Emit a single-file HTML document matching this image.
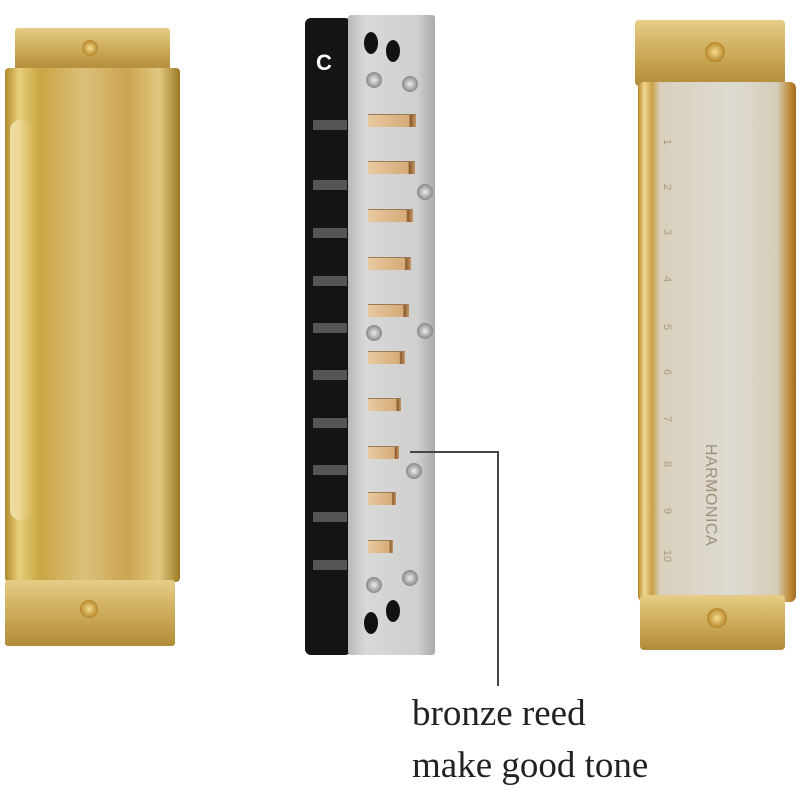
<!DOCTYPE html>
<html><head><style>
body{margin:0;width:800px;height:800px;background:#fff;position:relative;overflow:hidden;font-family:"Liberation Sans",sans-serif}
div{position:absolute;box-sizing:border-box}
.gold{background:linear-gradient(90deg,#b08a2a 0%,#e8cf7a 8%,#c9a544 20%,#dcc07a 45%,#caa550 70%,#e2c880 88%,#9c7a25 100%)}
.plate{background:linear-gradient(180deg,#e6cd86,#c8a552 60%,#b18c3a)}
.reed{height:13px;background:linear-gradient(90deg,#e8c9a0,#d6ab78 85%,#8a5a2a 88%,#c89868);border-top:1px solid #9b7a5a}
.scr{width:16px;height:16px;border-radius:50%;background:radial-gradient(circle,#eee,#888 70%,#555);}
.hole{width:14px;height:22px;border-radius:50%;background:#111}
.num{font-size:11px;color:#a89a80;transform:rotate(90deg);left:664px}
.gs{width:20px;height:20px;border-radius:50%;background:radial-gradient(circle,#f5de90,#b8862a 70%,#7a5a18)}
.cap{left:412px;font-family:'Liberation Serif',serif;font-size:37px;color:#222;white-space:nowrap}
</style></head><body>
<div class="plate" style="left:15px;top:28px;width:155px;height:42px;border-radius:3px"></div>
<div class="gs" style="left:82px;top:40px;width:16px;height:16px"></div>
<div class="gold" style="left:5px;top:68px;width:175px;height:514px;border-radius:4px"></div>
<div style="left:10px;top:120px;width:22px;height:400px;border-radius:10px;background:linear-gradient(90deg,#fff6cf,#d9b860);opacity:.7"></div>
<div class="plate" style="left:5px;top:580px;width:170px;height:66px;border-radius:3px"></div>
<div class="gs" style="left:80px;top:600px;width:18px;height:18px"></div>
<div style="left:305px;top:18px;width:46px;height:637px;background:#141414;border-radius:6px"></div>
<div style="left:313px;top:120px;width:34px;height:10px;background:#555"></div>
<div style="left:313px;top:180px;width:34px;height:10px;background:#555"></div>
<div style="left:313px;top:228px;width:34px;height:10px;background:#555"></div>
<div style="left:313px;top:276px;width:34px;height:10px;background:#555"></div>
<div style="left:313px;top:323px;width:34px;height:10px;background:#555"></div>
<div style="left:313px;top:370px;width:34px;height:10px;background:#555"></div>
<div style="left:313px;top:418px;width:34px;height:10px;background:#555"></div>
<div style="left:313px;top:465px;width:34px;height:10px;background:#555"></div>
<div style="left:313px;top:512px;width:34px;height:10px;background:#555"></div>
<div style="left:313px;top:560px;width:34px;height:10px;background:#555"></div>
<div style="left:316px;top:50px;color:#fff;font-weight:bold;font-size:22px">C</div>
<div style="left:348px;top:15px;width:87px;height:640px;background:linear-gradient(90deg,#b8b8b8,#d8d8d6 20%,#cfcfcd 80%,#aaa);border-radius:3px"></div>
<div class="hole" style="left:364px;top:32px"></div><div class="hole" style="left:386px;top:40px"></div>
<div class="scr" style="left:366px;top:72px"></div><div class="scr" style="left:402px;top:76px"></div>
<div class="scr" style="left:417px;top:184px"></div>
<div class="scr" style="left:366px;top:325px"></div><div class="scr" style="left:417px;top:323px"></div>
<div class="scr" style="left:406px;top:463px"></div>
<div class="scr" style="left:366px;top:577px"></div><div class="scr" style="left:402px;top:570px"></div>
<div class="hole" style="left:364px;top:612px"></div><div class="hole" style="left:386px;top:600px"></div>
<div class="reed" style="left:368px;top:114px;width:48px"></div>
<div class="reed" style="left:368px;top:161px;width:47px"></div>
<div class="reed" style="left:368px;top:209px;width:45px"></div>
<div class="reed" style="left:368px;top:257px;width:43px"></div>
<div class="reed" style="left:368px;top:304px;width:41px"></div>
<div class="reed" style="left:368px;top:351px;width:37px"></div>
<div class="reed" style="left:368px;top:398px;width:33px"></div>
<div class="reed" style="left:368px;top:446px;width:31px"></div>
<div class="reed" style="left:368px;top:492px;width:28px"></div>
<div class="reed" style="left:368px;top:540px;width:25px"></div>
<div style="left:410px;top:451px;width:89px;height:2px;background:#444"></div>
<div style="left:497px;top:451px;width:2px;height:235px;background:#444"></div>
<div class="cap" style="top:692px">bronze reed</div>
<div class="cap" style="top:744px">make good tone</div>
<div class="plate" style="left:635px;top:20px;width:150px;height:66px;border-radius:4px"></div>
<div class="gs" style="left:705px;top:42px"></div>
<div style="left:638px;top:82px;width:158px;height:520px;border-radius:6px;background:linear-gradient(90deg,#b8862a 0%,#f0d890 4%,#c9a048 9%,#d8d0bc 14%,#dedbd2 60%,#d4cdb8 88%,#c08a3a 96%,#a06a20 100%)"></div>
<div class="num" style="top:136px">1</div><div class="num" style="top:181px">2</div><div class="num" style="top:226px">3</div><div class="num" style="top:273px">4</div><div class="num" style="top:321px">5</div><div class="num" style="top:366px">6</div><div class="num" style="top:413px">7</div><div class="num" style="top:458px">8</div><div class="num" style="top:505px">9</div><div class="num" style="top:550px;left:661px">10</div>
<div style="left:650px;top:486px;width:120px;font-size:16px;color:#a0907a;transform:rotate(90deg);text-align:center;letter-spacing:0.5px">HARMONICA</div>
<div class="plate" style="left:640px;top:595px;width:145px;height:55px;border-radius:4px"></div>
<div class="gs" style="left:707px;top:608px"></div>
</body></html>
